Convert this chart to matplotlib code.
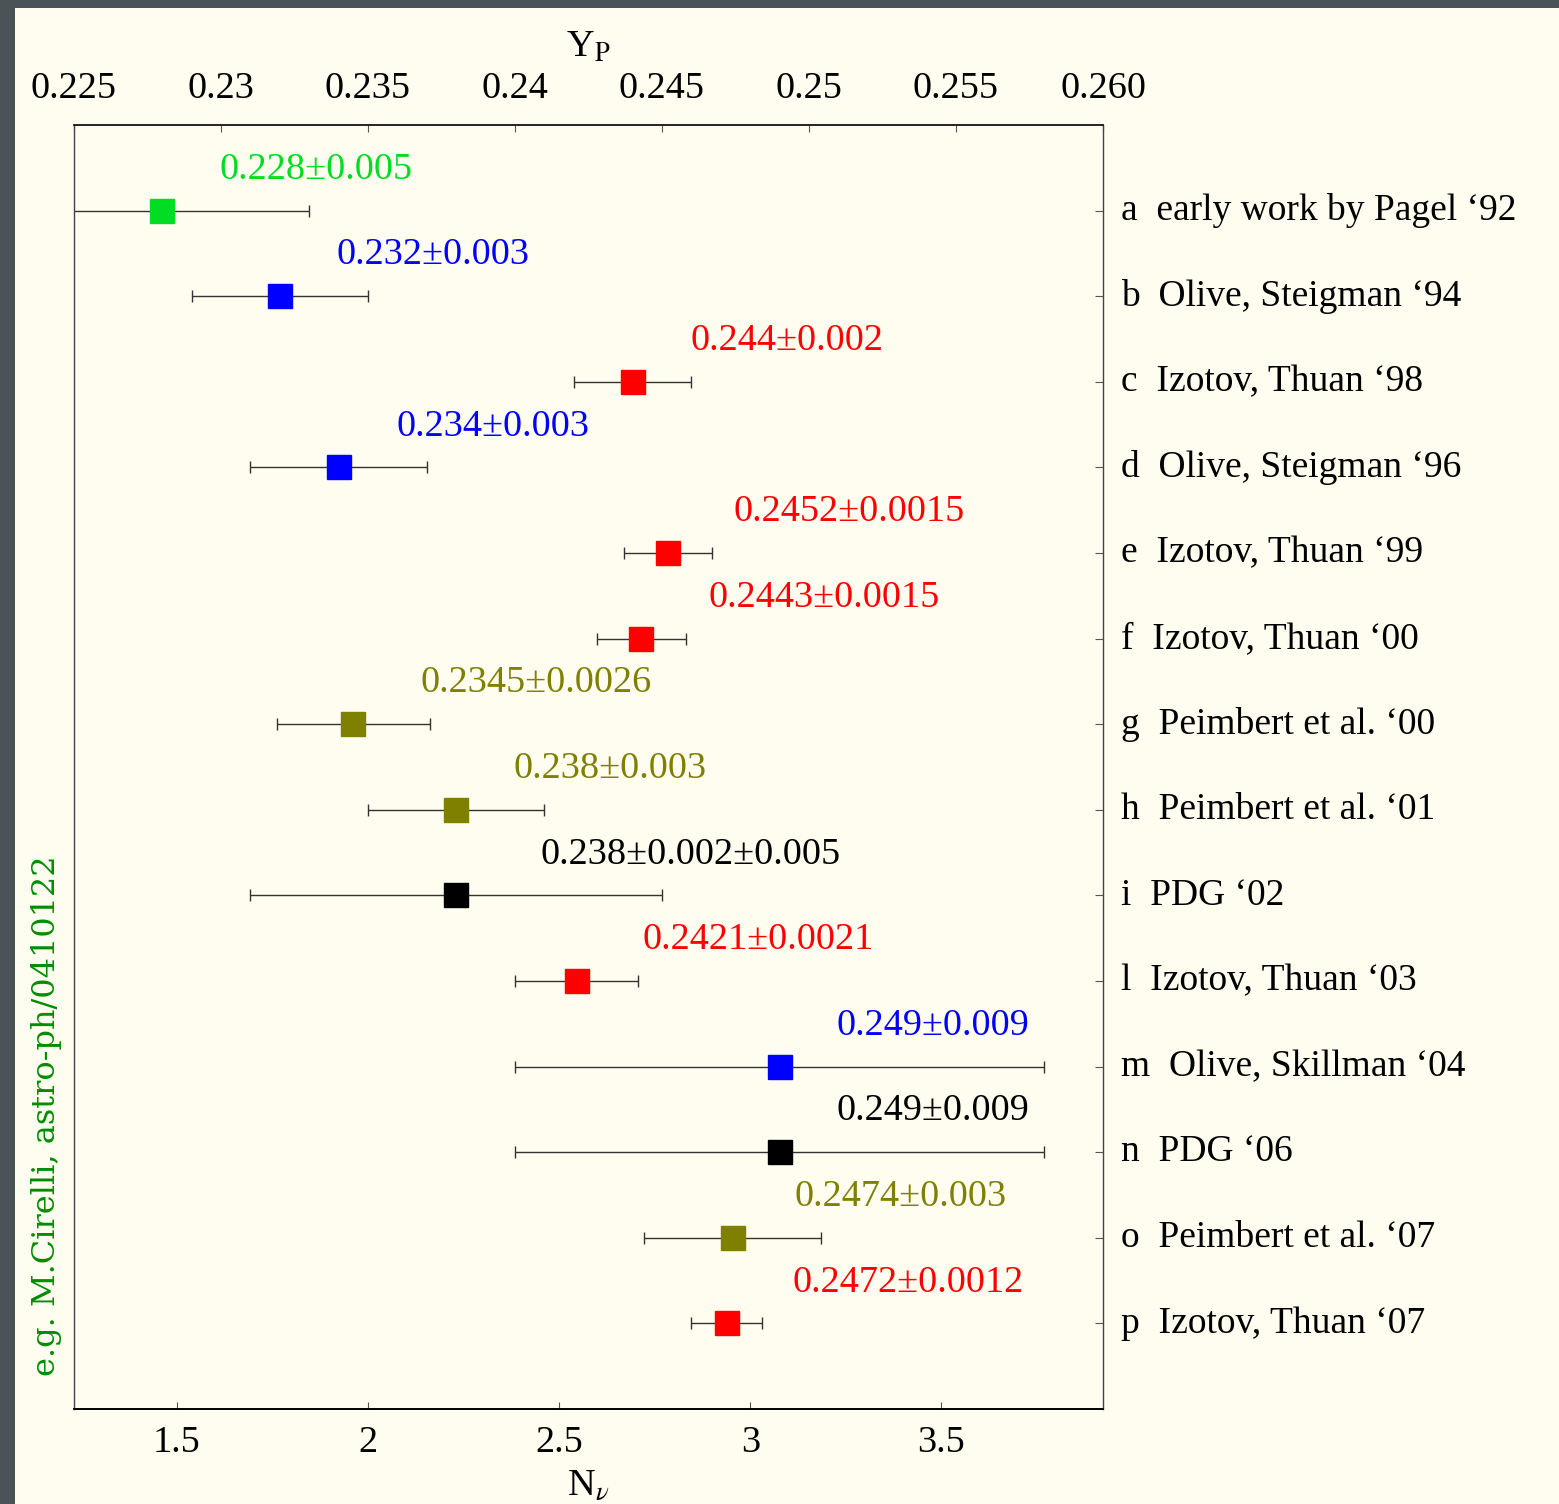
import matplotlib
matplotlib.use("Agg")
import matplotlib.pyplot as plt
from matplotlib.patches import Rectangle

plt.rcParams['font.family'] = ['Liberation Serif', 'DejaVu Serif']
plt.rcParams['mathtext.fontset'] = 'stix'

# ---- data ----
letters = ['a', 'b', 'c', 'd', 'e', 'f', 'g', 'h', 'i', 'l', 'm', 'n', 'o', 'p']
refs = ["early work by Pagel \u201892", "Olive, Steigman \u201894", "Izotov, Thuan \u201898",
        "Olive, Steigman \u201896", "Izotov, Thuan \u201899", "Izotov, Thuan \u201800",
        "Peimbert et al. \u201800", "Peimbert et al. \u201801", "PDG \u201802",
        "Izotov, Thuan \u201803", "Olive, Skillman \u201804", "PDG \u201806",
        "Peimbert et al. \u201807", "Izotov, Thuan \u201807"]
yp_values = [0.228, 0.232, 0.244, 0.234, 0.2452, 0.2443, 0.2345, 0.238, 0.238, 0.2421,
             0.249, 0.249, 0.2474, 0.2472]
yp_errors = [0.005, 0.003, 0.002, 0.003, 0.0015, 0.0015, 0.0026, 0.003, 0.007, 0.0021,
             0.009, 0.009, 0.003, 0.0012]
value_labels = ["0.228\u00b10.005", "0.232\u00b10.003", "0.244\u00b10.002", "0.234\u00b10.003",
                "0.2452\u00b10.0015", "0.2443\u00b10.0015", "0.2345\u00b10.0026",
                "0.238\u00b10.003", "0.238\u00b10.002\u00b10.005", "0.2421\u00b10.0021",
                "0.249\u00b10.009", "0.249\u00b10.009", "0.2474\u00b10.003", "0.2472\u00b10.0012"]
colors = ['#00DD22', '#0000FF', '#FF0000', '#0000FF', '#FF0000', '#FF0000', '#808000',
          '#808000', '#000000', '#FF0000', '#0000FF', '#000000', '#808000', '#FF0000']
yp_ticks = [0.225, 0.23, 0.235, 0.24, 0.245, 0.25, 0.255, 0.260]
yp_ticklabels = ['0.225', '0.23', '0.235', '0.24', '0.245', '0.25', '0.255', '0.260']
nnu_ticks = [1.5, 2, 2.5, 3, 3.5]
nnu_ticklabels = ['1.5', '2', '2.5', '3', '3.5']

# style: horizontal label offsets (px) from the marker
label_dx_px = [57, 57, 58, 58, 66, 67, 67, 57, 84, 66, 57, 57, 62, 66]

# relation Y_P <-> N_nu
Y3 = 0.248
dYdN = 0.013
def y2n(y):
    return 3 + (y - Y3) / dYdN
def n2y(n):
    return Y3 + (n - 3) * dYdN

FS = 27.5
W, H = 1559, 1504
DPI = 100
fig = plt.figure(figsize=(W / DPI, H / DPI), dpi=DPI)
fig.patch.set_facecolor('#4a5357')
bg = Rectangle((15 / W, 0), 1 - 15 / W, 1 - 8 / H, transform=fig.transFigure,
               facecolor='#FFFCF0', edgecolor='none', zorder=-10)
fig.add_artist(bg)

ax = fig.add_axes([74 / W, 1 - 1409 / H, (1103 - 74) / W, (1409 - 125) / H])
ax.set_zorder(1)
ax.set_facecolor('#FFFCF0')
n = len(letters)
pos = list(range(1, n + 1))
ax.set_xlim(0.225, 0.260)
ax.set_ylim(n + 1, 0)

px2pt = 72 / DPI
for i in range(n):
    ax.errorbar(yp_values[i], pos[i], xerr=yp_errors[i], fmt='none', ecolor='#333333',
                elinewidth=1.0, capsize=4, capthick=1.0, zorder=2, clip_on=True)
    ax.plot(yp_values[i], pos[i], marker='s', markersize=17.5, color=colors[i],
            linestyle='none', zorder=3)
    ax.annotate(value_labels[i], (yp_values[i], pos[i]),
                xytext=(label_dx_px[i] * px2pt, 41 * px2pt), textcoords='offset points',
                ha='left', va='center', color=colors[i], fontsize=FS)

# top axis Y_P
ax.xaxis.set_ticks_position('top')
ax.xaxis.set_label_position('top')
ax.set_xticks(yp_ticks)
ax.set_xticklabels(yp_ticklabels)
ax.tick_params(axis='x', direction='in', length=5, width=0.8, color='#555555',
               labelsize=FS, pad=14)
ax.set_xlabel(r'Y$_\mathrm{P}$', fontsize=FS, labelpad=10)

# right labels
ax.yaxis.set_ticks_position('right')
ax.set_yticks(pos)
ax.set_yticklabels([f"{l}  {r}" for l, r in zip(letters, refs)])
ax.tick_params(axis='y', direction='in', length=6, width=0.8, color='#555555',
               labelsize=27, pad=13)
for t in ax.get_yticklabels():
    t.set_va('center')

# bottom axis N_nu
sec = ax.secondary_xaxis('bottom', functions=(y2n, n2y))
sec.set_xticks(nnu_ticks)
sec.set_xticklabels(nnu_ticklabels)
sec.tick_params(direction='in', length=5, width=0.8, color='#555555', labelsize=FS, pad=12)
sec.set_xlabel(r'N$_\nu$', fontsize=FS, labelpad=6)
sec.spines['bottom'].set_linewidth(1.2)

for s in ['top', 'bottom']:
    ax.spines[s].set_color('black')
    ax.spines[s].set_linewidth(1.2)
for s in ['left', 'right']:
    ax.spines[s].set_color('#444444')
    ax.spines[s].set_linewidth(1.0)

fig.text(47 / W, 1 - 1116 / H, 'e.g. M.Cirelli, astro-ph/0410122', rotation=90,
         ha='center', va='center', color='#008C00', fontsize=23,
         family=['DejaVu Serif'])

fig.savefig('out.png', dpi=DPI, facecolor=fig.get_facecolor())
